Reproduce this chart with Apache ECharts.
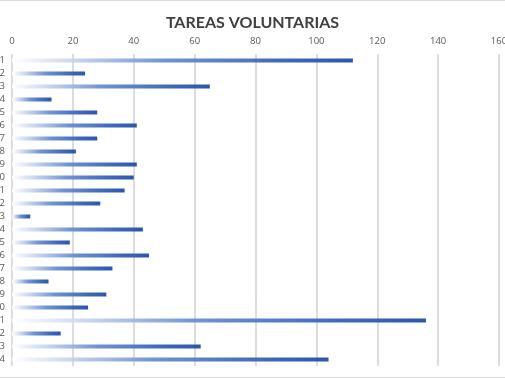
<!DOCTYPE html>
<html>
<head>
<meta charset="utf-8">
<script src="https://cdn.jsdelivr.net/npm/echarts@6/dist/echarts.min.js"></script>
<style>
  html, body { margin: 0; padding: 0; background: #fff; }
  #chart { width: 505px; height: 378px; box-sizing: border-box; border-top: 1px solid #d9d9d9; border-bottom: 1px solid #d9d9d9; }
</style>
</head>
<body>
<div id="chart"></div>
<script>
  // datos
  var categorias = ['1','2','3','4','5','6','7','8','9','10','11','12','13','14','15','16','17','18','19','20','21','22','23','24'];
  var tareas = [112, 24, 65, 13, 28, 41, 28, 21, 41, 40, 37, 29, 6, 43, 19, 45, 33, 12, 31, 25, 136, 16, 62, 104];
  var ticksX = [0, 20, 40, 60, 80, 100, 120, 140, 160];

  var chart = echarts.init(document.getElementById('chart'));

  var option = {
    animation: false,
    title: {
      text: 'TAREAS VOLUNTARIAS',
      left: 'center',
      top: 9,
      textStyle: {
        color: '#404040',
        fontSize: 16,
        fontWeight: 'bold',
        fontFamily: 'Lato'
      }
    },
    grid: {
      left: 12,
      right: 6,
      top: 53,
      bottom: 11,
      containLabel: false,
      outerBoundsMode: 'none'
    },
    xAxis: {
      type: 'value',
      position: 'top',
      min: ticksX[0],
      max: ticksX[ticksX.length - 1],
      interval: 20,
      axisLine: { show: false },
      axisTick: { show: false },
      axisLabel: {
        color: '#595959',
        fontSize: 9.5,
        margin: 8,
        fontFamily: 'Open Sans'
      },
      splitLine: {
        lineStyle: { color: '#d0d0d0', width: 1.5 }
      }
    },
    yAxis: {
      type: 'category',
      data: categorias,
      inverse: true,
      axisLine: { show: false },
      axisTick: { show: false },
      axisLabel: {
        interval: 0,
        color: '#595959',
        fontSize: 9.5,
        margin: 7,
        fontFamily: 'Open Sans'
      }
    },
    series: [
      {
        type: 'bar',
        data: tareas,
        barWidth: 4,
        itemStyle: {
          color: new echarts.graphic.LinearGradient(0, 0, 1, 0, [
            { offset: 0, color: 'rgba(255,255,255,0.9)' },
            { offset: 0.45, color: '#6f93d3' },
            { offset: 0.8, color: '#3e68bd' },
            { offset: 1, color: '#2a57ad' }
          ])
        }
      }
    ]
  };

  chart.setOption(option);

  window.addEventListener('resize', function () {
    chart.resize();
  });
</script>
</body>
</html>
